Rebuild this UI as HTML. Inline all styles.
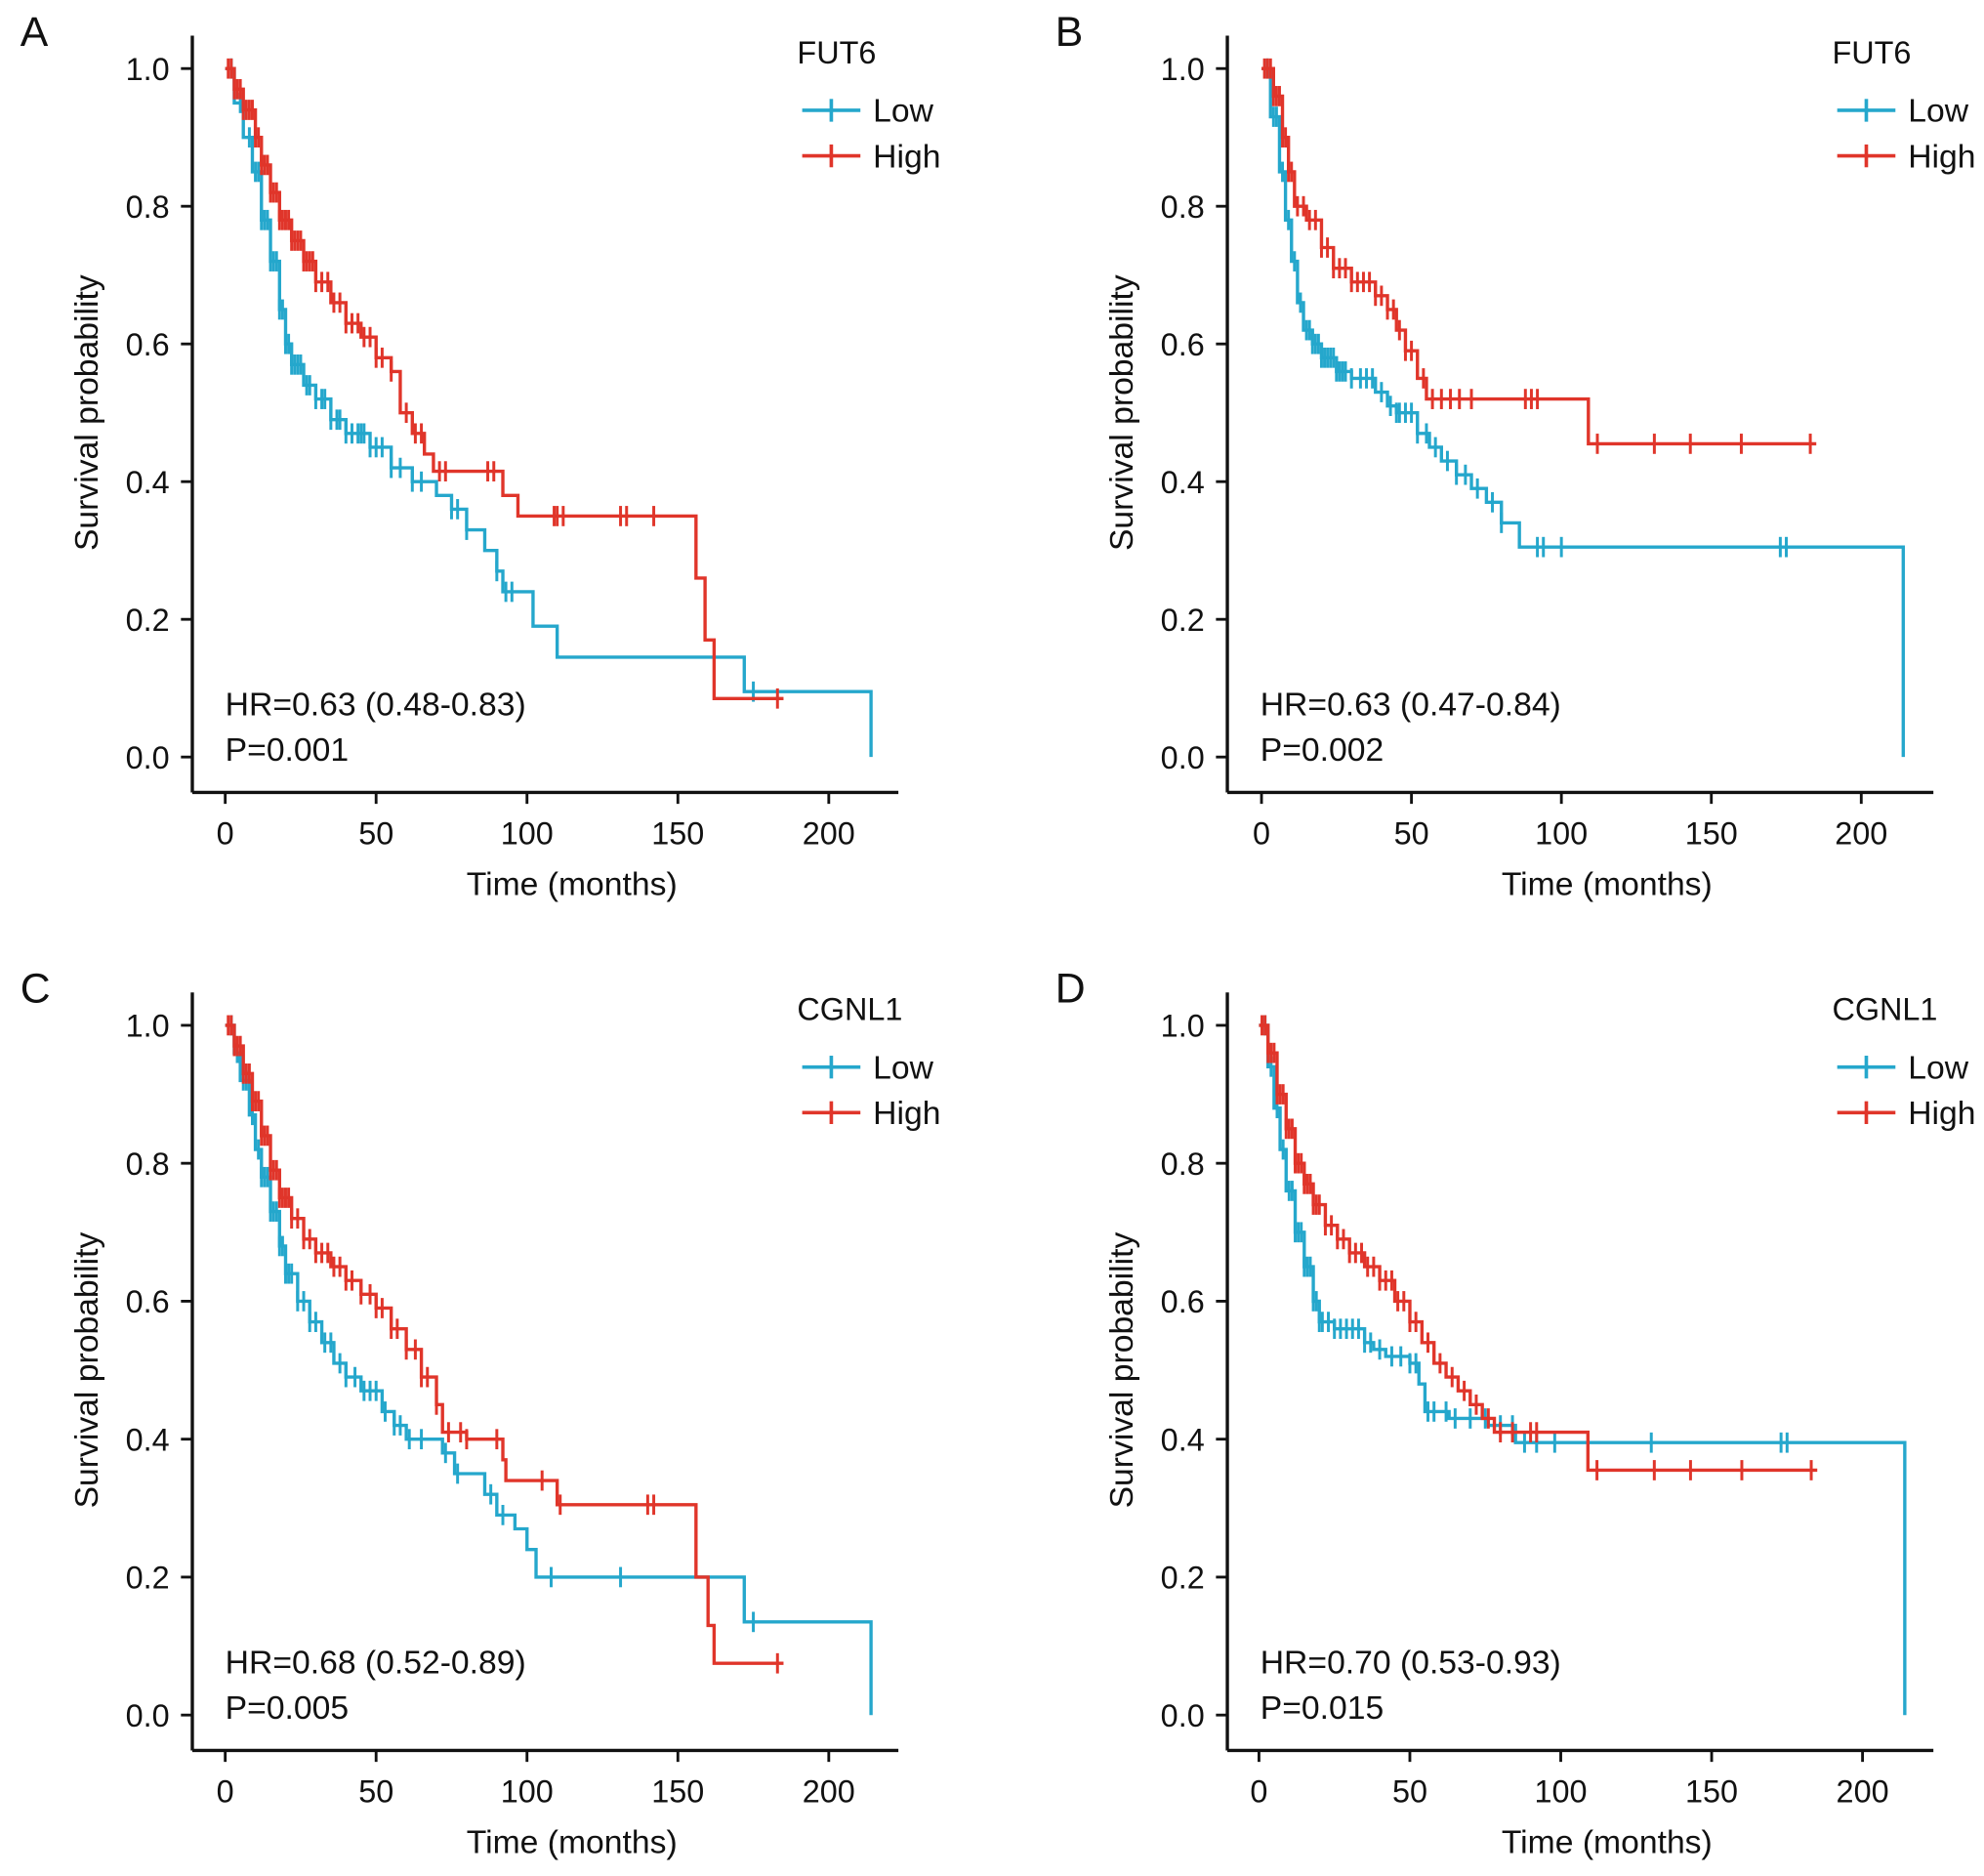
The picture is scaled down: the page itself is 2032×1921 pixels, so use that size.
<!DOCTYPE html>
<html><head><meta charset="utf-8"><style>
html,body{margin:0;padding:0;background:#fff}
svg{display:block}
text{font-family:"Liberation Sans",Arial,sans-serif;fill:#111}
</style></head><body>
<svg id="fig" width="2032" height="1921" viewBox="0 0 1568 1482" xmlns="http://www.w3.org/2000/svg"></svg>
<script>
// ---- data (time in months, survival probability) ----
const xTicks = [0, 50, 100, 150, 200];
const yTicks = [0.0, 0.2, 0.4, 0.6, 0.8, 1.0];
const panelLabels = ["A", "B", "C", "D"];
const genes = ["FUT6", "FUT6", "CGNL1", "CGNL1"];
const hrTexts = ["HR=0.63 (0.48-0.83)", "HR=0.63 (0.47-0.84)", "HR=0.68 (0.52-0.89)", "HR=0.70 (0.53-0.93)"];
const pTexts = ["P=0.001", "P=0.002", "P=0.005", "P=0.015"];

const aLowT = [0,3,6,9,12,15,18,20,22,26,30,35,40,48,55,62,70,75,80,86,90,92,102,110,172,214];
const aLowS = [1,0.95,0.9,0.85,0.78,0.72,0.65,0.6,0.57,0.54,0.52,0.49,0.47,0.45,0.42,0.4,0.38,0.36,0.33,0.3,0.27,0.24,0.19,0.145,0.095,0];
const aLowC = [2,5,8,10,11,12,13,14,15,16,17,18,19,20,21,22,23,24,25,27,28,30,32,33,35,37,38,40,42,44,45,46,48,50,52,55,58,62,65,75,77,80,90,93,95,175];
const aHighT = [0,3,6,10,12,15,18,22,26,30,35,40,45,50,55,58,62,66,69,92,97,156,159,162];
const aHighS = [1,0.97,0.94,0.9,0.86,0.82,0.78,0.75,0.72,0.69,0.66,0.63,0.61,0.58,0.56,0.5,0.47,0.44,0.415,0.38,0.35,0.26,0.17,0.085];
const aHighC = [1,2,3,4,5,6,7,8,9,10,11,12,13,14,15,16,17,18,19,20,21,22,23,24,25,26,27,28,29,30,32,34,36,38,40,42,44,46,48,50,52,55,60,63,65,71,73,87,89,109,110,112,131,133,142,183];

const bLowT = [0,3,6,8,10,12,14,17,20,25,30,38,42,45,52,56,60,65,70,75,80,86,214];
const bLowS = [1,0.93,0.85,0.78,0.72,0.66,0.62,0.6,0.58,0.56,0.55,0.53,0.51,0.5,0.47,0.45,0.43,0.41,0.39,0.37,0.34,0.305,0];
const bLowC = [2,4,5,7,9,11,13,15,16,17,18,19,20,21,22,23,24,25,26,27,28,30,33,35,37,40,43,45,46,48,50,52,55,58,62,65,68,72,77,80,92,94,100,173,175];
const bHighT = [0,4,7,9,11,15,20,24,30,38,42,45,48,52,55,109];
const bHighS = [1,0.96,0.9,0.85,0.8,0.78,0.74,0.71,0.69,0.67,0.65,0.62,0.59,0.55,0.52,0.455];
const bHighC = [1,2,3,4,5,6,7,8,9,10,12,14,16,18,20,22,24,26,28,30,32,34,36,38,40,42,44,46,48,50,54,57,60,63,66,70,88,90,92,112,131,143,160,183];

const cLowT = [0,3,5,8,10,12,15,18,20,24,28,32,36,40,45,52,56,60,72,76,86,90,96,100,103,172,214];
const cLowS = [1,0.96,0.92,0.87,0.82,0.78,0.73,0.68,0.64,0.6,0.57,0.54,0.51,0.49,0.47,0.44,0.42,0.4,0.38,0.35,0.32,0.29,0.27,0.24,0.2,0.135,0];
const cLowC = [2,4,6,7,9,11,12,13,14,15,16,17,18,19,20,21,22,24,26,28,30,33,35,38,40,43,46,48,50,53,56,58,61,65,73,77,88,92,108,131,175];
const cHighT = [0,3,6,9,12,15,18,22,26,30,35,40,45,50,55,60,65,70,72,80,92,93,110,156,160,162];
const cHighS = [1,0.97,0.93,0.89,0.84,0.79,0.75,0.72,0.69,0.67,0.65,0.63,0.61,0.59,0.56,0.53,0.49,0.45,0.41,0.4,0.37,0.34,0.305,0.2,0.13,0.075];
const cHighC = [1,2,3,4,5,6,7,8,9,10,11,12,13,14,15,16,17,18,19,20,21,22,24,26,28,30,32,34,36,38,40,42,45,48,50,52,55,57,60,63,65,67,70,74,78,80,90,105,111,140,142,183];

const dLowT = [0,3,5,7,9,12,15,18,20,25,35,38,42,50,53,55,63,76,85,214];
const dLowS = [1,0.94,0.88,0.82,0.76,0.7,0.65,0.6,0.57,0.56,0.54,0.53,0.52,0.51,0.48,0.44,0.43,0.42,0.395,0];
const dLowC = [2,4,6,8,10,11,12,13,14,15,16,17,18,19,20,21,23,25,27,29,31,33,35,37,40,44,47,50,52,56,58,62,65,70,75,80,84,88,92,98,130,173,175];
const dHighT = [0,3,6,9,12,15,18,22,26,30,35,40,45,50,54,58,62,66,70,74,78,109];
const dHighS = [1,0.96,0.9,0.85,0.8,0.77,0.74,0.71,0.69,0.67,0.65,0.63,0.6,0.57,0.54,0.51,0.49,0.47,0.45,0.43,0.41,0.355];
const dHighC = [1,2,3,4,5,6,7,8,9,10,11,12,13,14,15,16,17,18,19,20,22,24,26,28,30,32,34,36,38,40,42,44,46,48,50,52,56,60,64,68,72,76,80,84,90,92,112,131,143,160,183];

const lowEnds = [214, 214, 214, 214];
const highEnds = [185, 185, 185, 185];

// ---- layout ----
const NS = "http://www.w3.org/2000/svg";
const svg = document.getElementById("fig");
const BLUE = "#25a7cc", RED = "#e0352a";
const panels = [
  {ox:152, x0:178, x200:655, yTop:28, y1:54, y0:598, yAx:626, lowT:aLowT, lowS:aLowS, lowC:aLowC, highT:aHighT, highS:aHighS, highC:aHighC},
  {ox:970, x0:997, x200:1471, yTop:28, y1:54, y0:598, yAx:626, lowT:bLowT, lowS:bLowS, lowC:bLowC, highT:bHighT, highS:bHighS, highC:bHighC},
  {ox:152, x0:178, x200:655, yTop:784, y1:810, y0:1355, yAx:1383, lowT:cLowT, lowS:cLowS, lowC:cLowC, highT:cHighT, highS:cHighS, highC:cHighC},
  {ox:970, x0:995, x200:1472, yTop:784, y1:810, y0:1355, yAx:1383, lowT:dLowT, lowS:dLowS, lowC:dLowC, highT:dHighT, highS:dHighS, highC:dHighC}
];

function mk(tag, attrs, parent){
  const e = document.createElementNS(NS, tag);
  for (const k in attrs) e.setAttribute(k, attrs[k]);
  (parent||svg).appendChild(e);
  return e;
}
function txt(s, attrs, parent){ const e = mk("text", attrs, parent); e.textContent = s; return e; }

function survAt(T, S, t){ let v = S[0]; for (let i=0;i<T.length;i++){ if (T[i] <= t) v = S[i]; } return v; }

panels.forEach((p, i) => {
  const g = mk("g", {});
  
  
  const X = t => p.x0 + (p.x200 - p.x0) * t / 200;
  const Y = s => p.y0 + (p.y1 - p.y0) * s;

  const pl = txt(panelLabels[i], {x: p.ox - 136, y: p.yTop + 8, "font-size": 33}, g);
  
  

  const ya = mk("line", {x1:p.ox, y1:p.yTop, x2:p.ox, y2:p.yAx, stroke:"#111", "stroke-width":2.6}, g);
  
  
  const xa = mk("line", {x1:p.ox, y1:p.yAx, x2:p.ox + 558, y2:p.yAx, stroke:"#111", "stroke-width":2.6}, g);
  
  

  yTicks.forEach(v => {
    mk("line", {x1:p.ox - 9, y1:Y(v), x2:p.ox, y2:Y(v), stroke:"#111", "stroke-width":2.2}, g);
    const tl = txt(v.toFixed(1), {x:p.ox - 18, y:Y(v) + 9, "font-size":25, "text-anchor":"end"}, g);
    
    
  });
  xTicks.forEach(v => {
    mk("line", {x1:X(v), y1:p.yAx, x2:X(v), y2:p.yAx + 9, stroke:"#111", "stroke-width":2.2}, g);
    const tl = txt(String(v), {x:X(v), y:p.yAx + 41, "font-size":25, "text-anchor":"middle"}, g);
    
    
  });
  const xt = txt("Time (months)", {x:p.ox + 300, y:p.yAx + 81, "font-size":26, "text-anchor":"middle"}, g);
  
  
  const yc = (p.y0 + p.y1) / 2;
  const yt = txt("Survival probability", {x:0, y:0, "font-size":26, "text-anchor":"middle", transform:`translate(${p.ox - 75},${yc}) rotate(-90)`}, g);
  
  

  function curve(T, S, C, end, color, name){
    let d = `M${X(T[0])},${Y(S[0])}`;
    for (let k=1;k<T.length;k++) d += ` H${X(T[k])} V${Y(S[k])}`;
    d += ` H${X(end)}`;
    const path = mk("path", {d, fill:"none", stroke:color, "stroke-width":2.6}, g);
    
    
    C.forEach(t => {
      const s = survAt(T, S, t);
      const m = mk("line", {x1:X(t), y1:Y(s) - 8, x2:X(t), y2:Y(s) + 8, stroke:color, "stroke-width":2.3}, g);
      
      
    });
  }
  curve(p.lowT, p.lowS, p.lowC, lowEnds[i], BLUE, 'low');
  curve(p.highT, p.highS, p.highC, highEnds[i], RED, 'high');

  const lx = p.ox + 482;
  const lt = txt(genes[i], {x:lx - 4, y:p.yTop + 22, "font-size":25}, g);
  
  
  [["Low", BLUE, 59], ["High", RED, 95]].forEach(([lab, col, dy]) => {
    const ly = p.yTop + dy;
    mk("line", {x1:lx, y1:ly, x2:lx + 46, y2:ly, stroke:col, "stroke-width":2.8}, g);
    mk("line", {x1:lx + 23, y1:ly - 9, x2:lx + 23, y2:ly + 9, stroke:col, "stroke-width":2.8}, g);
    const le = txt(lab, {x:lx + 56, y:ly + 9, "font-size":26}, g);
    
    
  });

  const hr = txt(hrTexts[i], {x:p.ox + 26, y:p.y0 - 33, "font-size":26}, g);
  
  
  const pv = txt(pTexts[i], {x:p.ox + 26, y:p.y0 + 3, "font-size":26}, g);
  
  
});
</script>
</body></html>
